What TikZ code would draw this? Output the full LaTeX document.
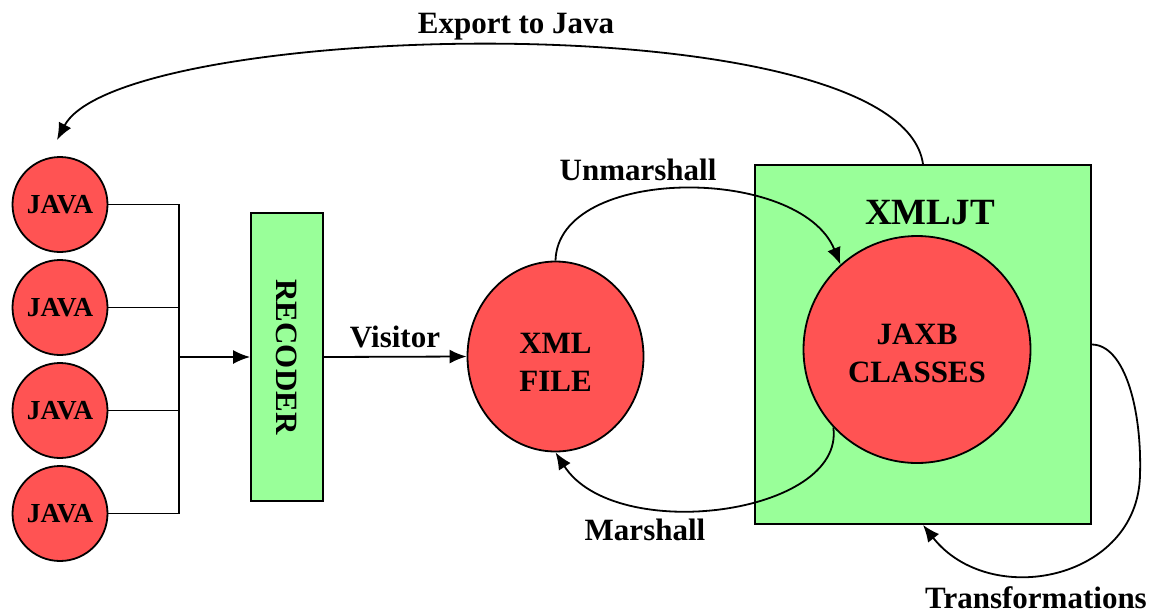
\documentclass[tikz,border=0pt]{standalone}
\usepackage{fontspec}
\setmainfont{Liberation Serif}
\usetikzlibrary{shapes.geometric,arrows.meta}

\definecolor{nodered}{HTML}{FF5353}
\definecolor{boxgreen}{HTML}{99FF99}

\tikzset{
  base/.style={draw=black, line width=1.8pt, inner sep=0pt, align=center,
    font=\bfseries\fontsize{31}{38}\selectfont},
  javanode/.style={base, circle, fill=nodered, minimum size=95pt,
    font=\bfseries\fontsize{27.5}{30}\selectfont},
  xmlnode/.style={base, ellipse, fill=nodered, minimum width=176pt, minimum height=190pt},
  jaxbnode/.style={base, circle, fill=nodered, minimum size=227pt},
  greenbox/.style={base, rectangle, fill=boxgreen},
  wire/.style={line width=1.8pt},
  flow/.style={line width=1.8pt, -{Latex[length=17pt,width=14pt]}},
  lbl/.style={inner sep=0pt, align=center, font=\bfseries\fontsize{31}{38}\selectfont}
}

\begin{document}
\begin{tikzpicture}[x=1pt,y=-1pt]
  % canvas
  \path[use as bounding box, fill=white] (0,0) rectangle (1152,614);

  % the four source files
  \node[javanode] (java1) at (60,204.5) {JAVA};
  \node[javanode] (java2) at (60,307.5) {JAVA};
  \node[javanode] (java3) at (60,410.5) {JAVA};
  \node[javanode] (java4) at (60,513.5) {JAVA};

  % recoder stage
  \node[greenbox, minimum width=72pt, minimum height=288pt] (recoder) at (287,357)
    {\rotatebox{-90}{RECODER}};

  % XML file
  \node[xmlnode] (xml) at (555.5,356.5) {};
  \node[lbl] (xmltext) at ([yshift=-6pt]xml.center) {XML\\FILE};

  % XMLJT box with the JAXB classes inside
  \node[greenbox, minimum width=336pt, minimum height=359pt] (xmljt) at (923,344.5) {};
  \node[lbl, font=\bfseries\fontsize{37}{42}\selectfont] (xmljtlbl) at (930,213) {XMLJT};
  \node[jaxbnode] (jaxb) at (917,349.5) {};
  \node[lbl] (jaxbtext) at ([yshift=-4pt]jaxb.center) {JAXB\\CLASSES};

  % bus joining the sources
  \coordinate (bus) at (179,357);
  \draw[wire] (java1.east) -| (bus);
  \draw[wire] (java2.east) -| (bus);
  \draw[wire] (java3.east) -| (bus);
  \draw[wire] (java4.east) -| (bus);
  \draw[flow] (bus) -- (recoder.west);

  % recoder to XML
  \draw[flow] (recoder.east) -- (xml.west);
  \node[lbl] (visitor) at (395,337) {Visitor};

  % unmarshall
  \draw[flow] (xml.north) .. controls (558,165) and (800,165) .. (jaxb.132);
  \node[lbl] (unm) at (638,170) {Unmarshall};

  % marshall
  \draw[flow] (jaxb.223) .. controls (845,515) and (615,545) .. (xml.south);
  \node[lbl] (mar) at (645,530) {Marshall};

  % transformations loop
  \coordinate (tr) at (1140,475);
  \draw[flow] (xmljt.east) .. controls (1125,345) and (1142,410) .. (tr)
    .. controls (1138,580) and (990,610) .. (xmljt.south);
  \node[lbl] (trans) at (1036,598) {Transformations};

  % export back to Java
  \coordinate (exp) at (57,140);
  \draw[flow] (xmljt.north) .. controls (900,0) and (120,20) .. (exp);
  \node[lbl] (export) at (516,27) {Export to Java};
\end{tikzpicture}
\end{document}
